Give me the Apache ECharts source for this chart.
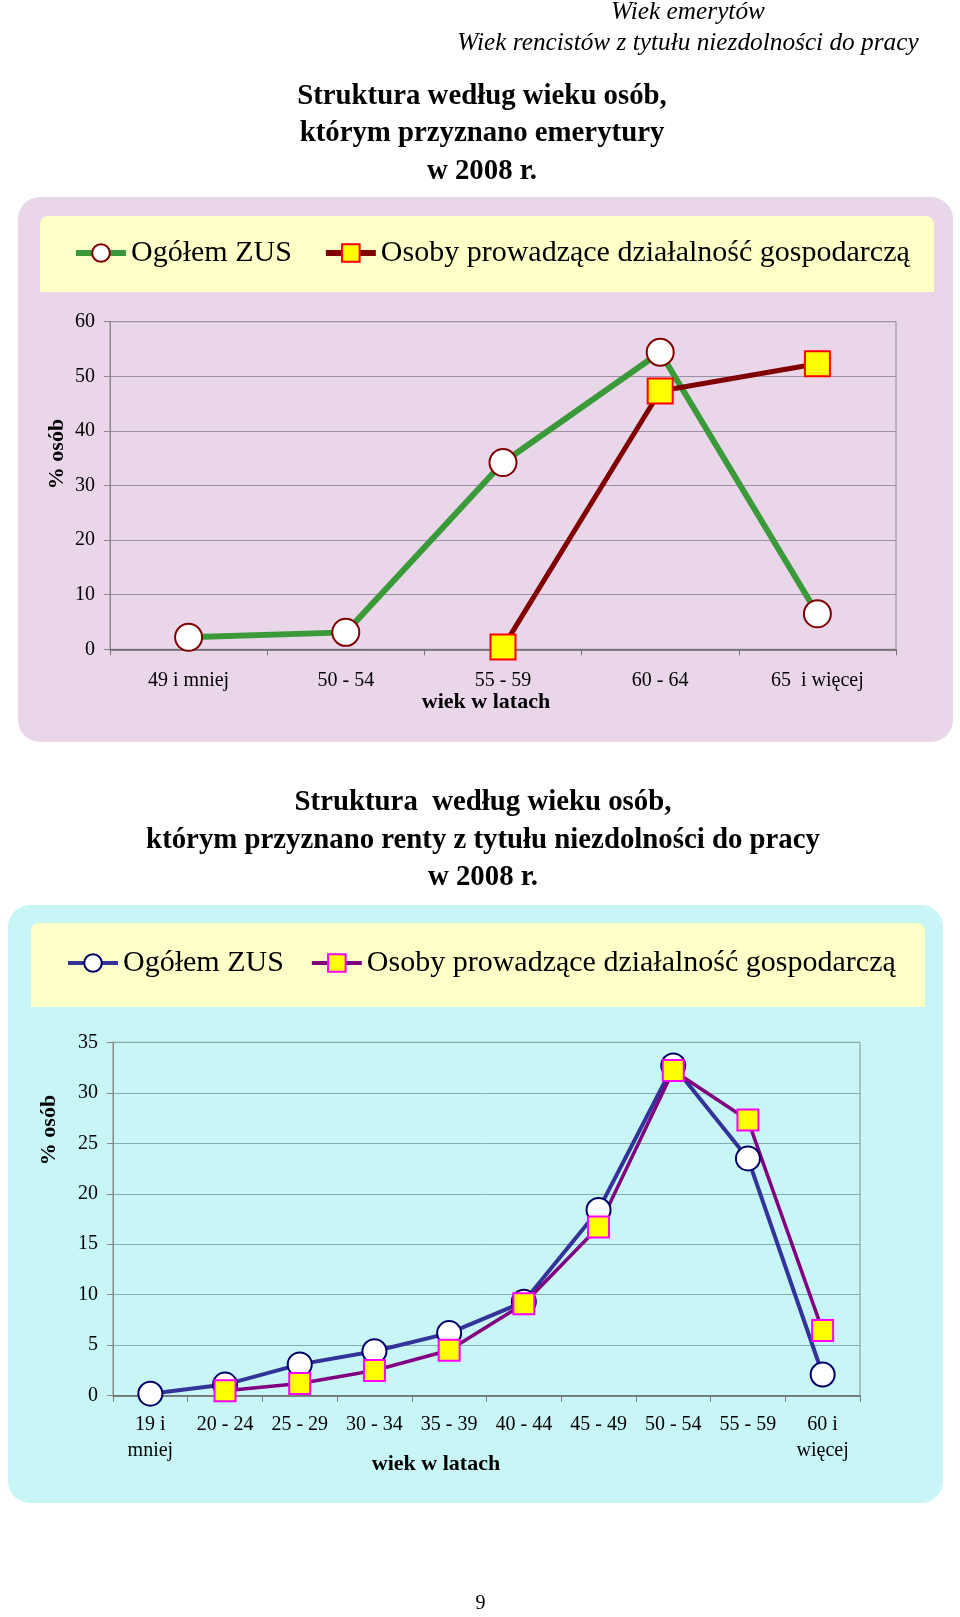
<!DOCTYPE html>
<html><head><meta charset="utf-8">
<script src="https://cdn.jsdelivr.net/npm/echarts@6/dist/echarts.min.js"></script>
<style>
html,body{margin:0;padding:0;background:#fff;}
#c1{position:absolute;left:0;top:0;width:960px;height:760px;}
#c2{position:absolute;left:0;top:760px;width:960px;height:857px;}
</style>
</head><body>
<div id="c1"></div><div id="c2"></div>
<script>
const FONT = '"Liberation Serif", "Times New Roman", serif';

// ---- data ----
const headerLines = ['Wiek emerytów', 'Wiek rencistów z tytułu niezdolności do pracy'];
const title1Lines = ['Struktura według wieku osób,', 'którym przyznano emerytury', 'w 2008 r.'];
const title2Lines = ['Struktura  według wieku osób,', 'którym przyznano renty z tytułu niezdolności do pracy', 'w 2008 r.'];
const seriesNames = ['Ogółem ZUS', 'Osoby prowadzące działalność gospodarczą'];
const xAxisName = 'wiek w latach';
const yAxisName = '% osób';
const categories1 = ['49 i mniej', '50 - 54', '55 - 59', '60 - 64', '65  i więcej'];
const ogolem1 = [2.2, 3.1, 34.2, 54.4, 6.5];
const osoby1 = [null, null, 0.4, 47.3, 52.3];
const categories2 = ['19 i\nmniej', '20 - 24', '25 - 29', '30 - 34', '35 - 39', '40 - 44', '45 - 49', '50 - 54', '55 - 59', '60 i\nwięcej'];
const ogolem2 = [0.2, 1.1, 3.1, 4.4, 6.2, 9.3, 18.4, 32.7, 23.5, 2.1];
const osoby2 = [null, 0.5, 1.2, 2.5, 4.5, 9.1, 16.7, 32.2, 27.3, 6.45];
const pageNumber = '9';

function txt(text, x, y, size, opts) {
  opts = opts || {};
  return {
    type: 'text', x: x, y: y, rotation: opts.rotation || 0, z: 10,
    style: {
      text: text, fill: '#000',
      fontFamily: FONT, fontSize: size,
      fontWeight: opts.bold ? 'bold' : 'normal',
      fontStyle: opts.italic ? 'italic' : 'normal',
      align: 'center', textAlign: 'center',
      verticalAlign: 'middle', textVerticalAlign: 'middle'
    }
  };
}

function axes(categories, ymax, interval, gridColor, xMargin) {
  return {
    xAxis: {
      type: 'category', data: categories, boundaryGap: true,
      axisLine: { show: true, lineStyle: { color: '#666', width: 1.5 } },
      axisTick: { show: true, length: 6, alignWithLabel: false, lineStyle: { color: '#777' } },
      axisLabel: { fontFamily: FONT, fontSize: 20, color: '#000', margin: xMargin, lineHeight: 26, interval: 0 },
      splitLine: { show: false }
    },
    yAxis: {
      type: 'value', min: 0, max: ymax, interval: interval,
      axisLine: { show: true, lineStyle: { color: '#888' } },
      axisTick: { show: true, length: 6, lineStyle: { color: '#888' } },
      axisLabel: { fontFamily: FONT, fontSize: 20, color: '#000', margin: 15 },
      splitLine: { show: true, lineStyle: { color: gridColor, width: 1 } }
    }
  };
}

// ---------- chart 1 ----------
const ch1 = echarts.init(document.getElementById('c1'), null, { renderer: 'canvas' });
const a1 = axes(categories1, 60, 10, '#9d90a6', 18);
ch1.setOption({
  animation: false,
  backgroundColor: 'transparent',
  graphic: [
    { type: 'rect', shape: { x: 18, y: 197, width: 935, height: 545, r: 22 }, style: { fill: '#E9D7E9' }, z: -10 },
    { type: 'rect', shape: { x: 40, y: 216, width: 894, height: 76, r: [8, 8, 0, 0] }, style: { fill: '#FFFFC8' }, z: -9 },
    txt(headerLines[0], 688, 12.5, 25.3, { italic: true }),
    txt(headerLines[1], 688, 43, 25.3, { italic: true }),
    txt(title1Lines[0], 482, 97, 28.8, { bold: true }),
    txt(title1Lines[1], 482, 134, 28.8, { bold: true }),
    txt(title1Lines[2], 482, 171.5, 28.8, { bold: true }),
    txt(xAxisName, 486, 702, 22, { bold: true }),
    txt(yAxisName, 57, 454, 22, { bold: true, rotation: Math.PI / 2 })
  ],
  legend: {
    left: 68, top: 233, itemWidth: 50, itemHeight: 22, itemGap: 31,
    selectedMode: false, data: seriesNames,
    textStyle: { fontFamily: FONT, fontSize: 30, color: '#000' },
    lineStyle: { width: 6 }
  },
  grid: { left: 110, right: 64, top: 321.7, height: 327.6, show: true, borderColor: '#8a8a8a', borderWidth: 1, backgroundColor: 'transparent' },
  xAxis: a1.xAxis,
  yAxis: a1.yAxis,
  series: [
    { type: 'line', name: seriesNames[0], data: ogolem1, symbol: 'circle', symbolSize: 27,
      lineStyle: { color: '#3a9a3a', width: 6 },
      itemStyle: { color: '#ffffff', borderColor: '#800000', borderWidth: 2 } },
    { type: 'line', name: seriesNames[1], data: osoby1, symbol: 'rect', symbolSize: 25,
      connectNulls: false,
      lineStyle: { color: '#800000', width: 5 },
      itemStyle: { color: '#ffff00', borderColor: '#ff0000', borderWidth: 2 } }
  ]
});

// ---------- chart 2 ----------
const ch2 = echarts.init(document.getElementById('c2'), null, { renderer: 'canvas' });
const a2 = axes(categories2, 35, 5, '#86adad', 16);
ch2.setOption({
  animation: false,
  backgroundColor: 'transparent',
  graphic: [
    { type: 'rect', shape: { x: 8, y: 145, width: 935, height: 598, r: 22 }, style: { fill: '#C8F6F6' }, z: -10 },
    { type: 'rect', shape: { x: 31, y: 163, width: 894, height: 84, r: [8, 8, 0, 0] }, style: { fill: '#FFFFC8' }, z: -9 },
    txt(title2Lines[0], 483, 42.5, 28.8, { bold: true }),
    txt(title2Lines[1], 483, 80.5, 28.8, { bold: true }),
    txt(title2Lines[2], 483, 118, 28.8, { bold: true }),
    txt(xAxisName, 436, 704, 22, { bold: true }),
    txt(yAxisName, 49.5, 370, 22, { bold: true, rotation: Math.PI / 2 }),
    txt(pageNumber, 480.5, 844, 20, {})
  ],
  legend: {
    left: 61, top: 183, itemWidth: 50, itemHeight: 22, itemGap: 26,
    selectedMode: false, data: seriesNames,
    textStyle: { fontFamily: FONT, fontSize: 30, color: '#000' },
    lineStyle: { width: 4 }
  },
  grid: { left: 113, right: 100, top: 282.3, height: 353.4, show: true, borderColor: '#8a8a8a', borderWidth: 1, backgroundColor: 'transparent' },
  xAxis: a2.xAxis,
  yAxis: a2.yAxis,
  series: [
    { type: 'line', name: seriesNames[0], data: ogolem2, symbol: 'circle', symbolSize: 24,
      lineStyle: { color: '#333399', width: 4 },
      itemStyle: { color: '#ffffff', borderColor: '#000066', borderWidth: 2 } },
    { type: 'line', name: seriesNames[1], data: osoby2, symbol: 'rect', symbolSize: 21,
      lineStyle: { color: '#800080', width: 3.5 },
      itemStyle: { color: '#ffff00', borderColor: '#ff00ff', borderWidth: 2 } }
  ]
});
</script>
</body></html>
